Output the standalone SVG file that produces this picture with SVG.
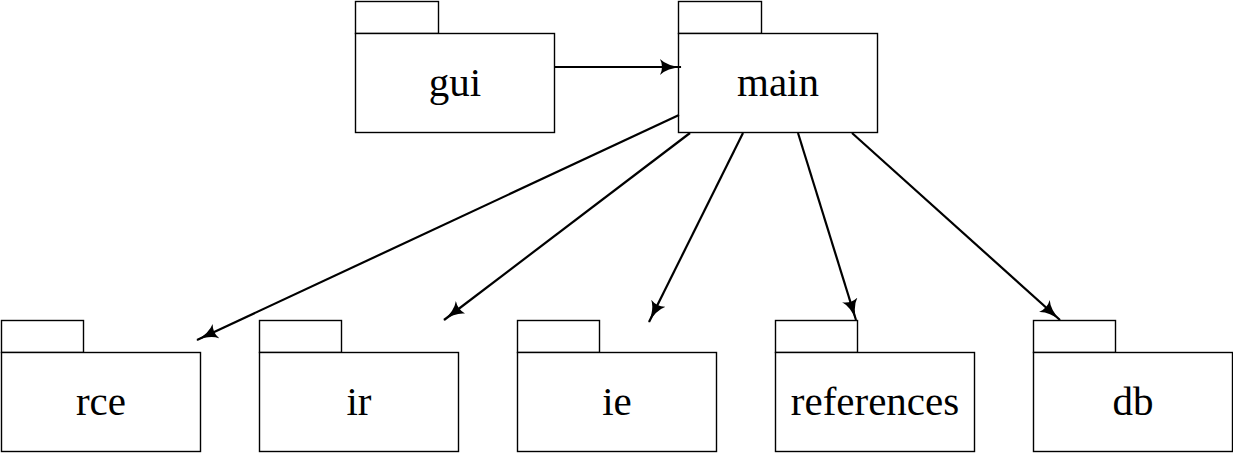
<svg xmlns="http://www.w3.org/2000/svg" width="1233" height="453" viewBox="0 0 1233 453">
<style>
.pk{fill:#fff;stroke:#000;stroke-width:1.4}
.lb{font-family:"Liberation Serif","DejaVu Serif",serif;font-size:41px;text-anchor:middle;fill:#000}
.cn{fill:none;stroke:#000;stroke-width:2.2;marker-end:url(#ah)}
</style>
<defs>
<marker id="ah" viewBox="0 0 22 16" refX="21" refY="8" markerWidth="22" markerHeight="16" markerUnits="userSpaceOnUse" orient="auto">
<path d="M0,0 Q7,7 22,8 Q7,9 0,16 Q4,8 0,0 Z" fill="#000"/>
</marker>
</defs>
<rect width="1233" height="453" fill="#fff"/>
<g id="gui">
<rect class="pk" x="355.5" y="1.5" width="83" height="32"/>
<rect class="pk" x="355.5" y="33.5" width="199" height="99"/>
<text class="lb" x="455" y="96">gui</text>
</g>
<g id="main">
<rect class="pk" x="678.5" y="1.5" width="83" height="32"/>
<rect class="pk" x="678.5" y="33.5" width="199" height="99"/>
<text class="lb" x="778" y="96">main</text>
</g>
<g id="rce">
<rect class="pk" x="1.5" y="320.5" width="82" height="32"/>
<rect class="pk" x="1.5" y="352.5" width="199" height="99"/>
<text class="lb" x="101" y="415">rce</text>
</g>
<g id="ir">
<rect class="pk" x="259.5" y="320.5" width="82" height="32"/>
<rect class="pk" x="259.5" y="352.5" width="199" height="99"/>
<text class="lb" x="359" y="415">ir</text>
</g>
<g id="ie">
<rect class="pk" x="517.5" y="320.5" width="82" height="32"/>
<rect class="pk" x="517.5" y="352.5" width="199" height="99"/>
<text class="lb" x="617" y="415">ie</text>
</g>
<g id="references">
<rect class="pk" x="775.5" y="320.5" width="82" height="32"/>
<rect class="pk" x="775.5" y="352.5" width="199" height="99"/>
<text class="lb" x="875" y="415">references</text>
</g>
<g id="db">
<rect class="pk" x="1033.5" y="320.5" width="82" height="32"/>
<rect class="pk" x="1033.5" y="352.5" width="199" height="99"/>
<text class="lb" x="1133" y="415">db</text>
</g>
<g id="connectors">
<line class="cn" x1="555" y1="67" x2="681" y2="67"/>
<line class="cn" x1="679" y1="115" x2="197" y2="340"/>
<line class="cn" x1="690" y1="133" x2="444" y2="320"/>
<line class="cn" x1="743" y1="133" x2="649" y2="322"/>
<line class="cn" x1="798" y1="133" x2="856" y2="320"/>
<line class="cn" x1="852" y1="133" x2="1060" y2="320"/>
</g>
</svg>
